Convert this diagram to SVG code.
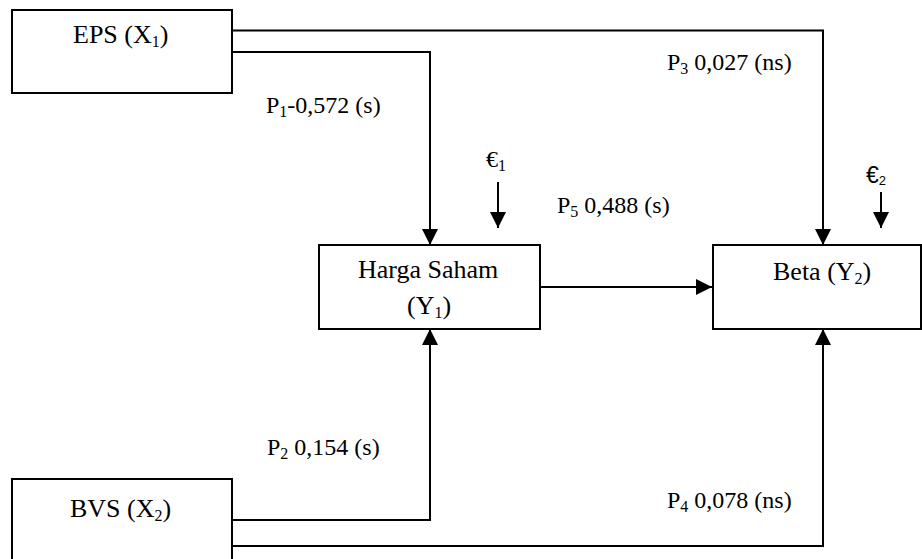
<svg xmlns="http://www.w3.org/2000/svg" width="922" height="559" viewBox="0 0 922 559">
<style>
.box{fill:#fff;stroke:#000;stroke-width:2}
.node{font-family:"Liberation Serif","Times New Roman",serif;font-size:26px;fill:#000}
.lbl{font-family:"Liberation Serif","Times New Roman",serif;font-size:24px;fill:#000}
.sub{font-size:16px}
.con{fill:none;stroke:#000;stroke-width:2}
.eps2{font-family:"Liberation Sans",Arial,sans-serif;font-size:23px;fill:#000}
</style>
<defs>
<marker id="ah" markerUnits="userSpaceOnUse" markerWidth="16" markerHeight="16" viewBox="0 0 16 16" refX="16" refY="8" orient="auto">
<path d="M0,0 L16,8 L0,16 Z" fill="#000"/>
</marker>
</defs>
<rect width="922" height="559" fill="#fff"/>
<g id="connectors">
<path class="con" d="M232,30.5 H823 V245" marker-end="url(#ah)"/>
<path class="con" d="M232,52 H430 V245" marker-end="url(#ah)"/>
<path class="con" d="M232,520 H430 V329" marker-end="url(#ah)"/>
<path class="con" d="M232,546 H823 V329" marker-end="url(#ah)"/>
<path class="con" d="M540,287 H712" marker-end="url(#ah)"/>
<path class="con" d="M498,182 V228" marker-end="url(#ah)"/>
<path class="con" d="M881,192 V228" marker-end="url(#ah)"/>
</g>
<g id="eps">
<rect class="box" x="12" y="10" width="220" height="83"/>
<text class="node" x="73" y="43">EPS (X<tspan class="sub" dy="4">1</tspan><tspan dy="-4">)</tspan></text>
</g>
<g id="bvs">
<rect class="box" x="12" y="479" width="220" height="100"/>
<text class="node" x="70" y="517">BVS (X<tspan class="sub" dy="4">2</tspan><tspan dy="-4">)</tspan></text>
</g>
<g id="harga">
<rect class="box" x="319" y="245" width="221" height="84"/>
<text class="node" x="358" y="278">Harga Saham</text>
<text class="node" x="407" y="314">(Y<tspan class="sub" dy="4">1</tspan><tspan dy="-4">)</tspan></text>
</g>
<g id="beta">
<rect class="box" x="713" y="245" width="208" height="84"/>
<text class="node" x="773" y="280">Beta (Y<tspan class="sub" dy="4">2</tspan><tspan dy="-4">)</tspan></text>
</g>
<g id="labels">
<text class="lbl" x="266" y="113">P<tspan class="sub" dy="4">1</tspan><tspan dy="-4">-0,572 (s)</tspan></text>
<text class="lbl" x="667" y="70">P<tspan class="sub" dy="4">3</tspan><tspan dy="-4"> 0,027 (ns)</tspan></text>
<text class="lbl" x="557" y="213">P<tspan class="sub" dy="4">5</tspan><tspan dy="-4"> 0,488 (s)</tspan></text>
<text class="lbl" x="267" y="455">P<tspan class="sub" dy="4">2</tspan><tspan dy="-4"> 0,154 (s)</tspan></text>
<text class="lbl" x="667" y="508">P<tspan class="sub" dy="4">4</tspan><tspan dy="-4"> 0,078 (ns)</tspan></text>
<text class="lbl" x="486" y="167">€<tspan class="sub" dy="4">1</tspan></text>
<text class="eps2" x="866" y="183">€<tspan font-size="13" dy="2">2</tspan></text>
</g>
</svg>
